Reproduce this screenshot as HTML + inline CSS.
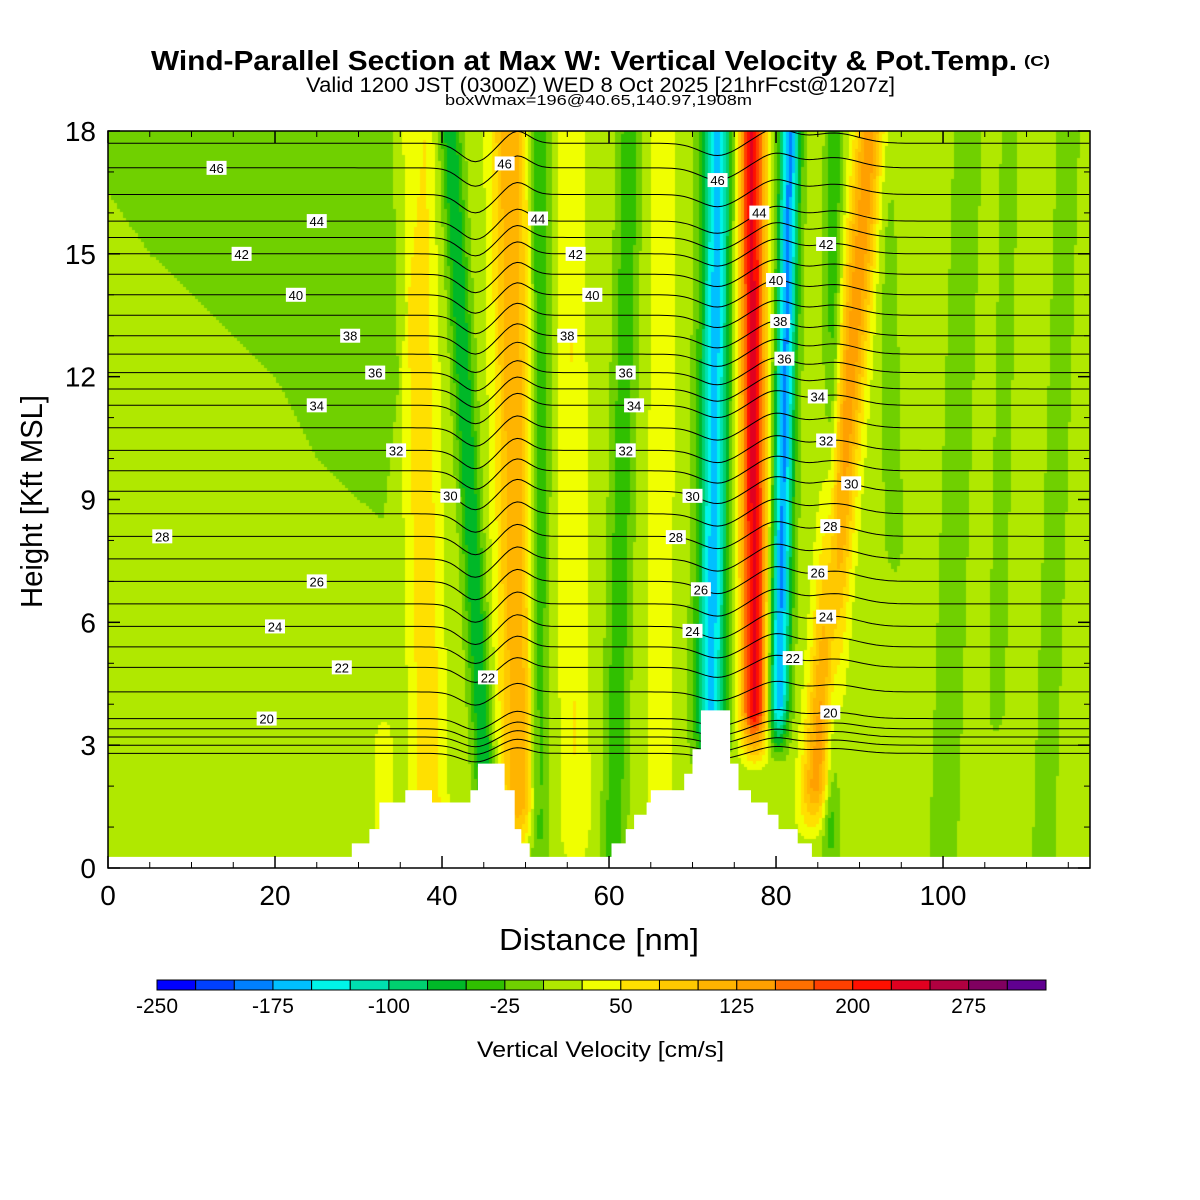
<!DOCTYPE html>
<html><head><meta charset="utf-8"><style>
html,body{margin:0;padding:0;background:#fff;}
#wrap{position:relative;width:1200px;height:1200px;}
#fld{position:absolute;left:108px;top:131px;}
svg{position:absolute;left:0;top:0;}
text{font-family:"Liberation Sans",sans-serif;fill:#000;}
</style></head><body>
<div id="wrap">
<canvas id="fld" width="982" height="737"></canvas>
<svg id="svg" width="1200" height="1200"></svg>
</div>
<script>
// ---- data ----
const binColors=["#0000ff","#0040ff","#0080ff","#00c0ff","#00f4e8","#00e0b0","#00d070","#00b828","#30c000","#70d000","#b0e800","#f0ff00","#ffe000","#ffc800","#ffb400","#ffa000","#ff7000","#ff4000","#ff1000","#e00020","#b00040","#800060","#600090"];
const binStart=-250, binStep=25;
const cbLabels=[-250,-175,-100,-25,50,125,200,275];
const xTicks=[0,20,40,60,80,100];
const yTicks=[0,3,6,9,12,15,18];
// bands: x at ground, x at top (nm), amplitude cm/s, half width nm, z range (kft)
const bandXb=[38.6,45.7,49.3,51.5,56,60.5,66,72.0,77.5,79.9,84,86.5,100,112,33,95,106];
const bandXt=[36.8,41.0,48.1,51.7,55.3,62.5,66.5,73.0,77.1,81.7,91.3,87.0,103,115,33,93,108];
const bandAmp=[60,-85,110,-65,40,-55,35,-170,220,-190,130,-55,-20,-20,25,-20,-18];
const bandW=[2.0,1.2,2.2,1.2,1.8,1.3,1.6,1.7,1.6,1.2,1.8,1.0,2.0,1.6,1.5,1.3,1.3];
const bandZlo=[1,1.5,1.5,1,1,0.5,1,3.5,3.8,4,2,1,0,0,0,8,4];
const bandZhi=[18,18,18,18,18,18,18,18,18,18,18,18,18,18,3,18,18];
// upper-left darker region boundary (z above which background is negative)
const bgX=[0,5,10,15,20,25,30,33,36,38];
const bgZ=[16.5,15,14,13,12,10,9,8.5,14,18];
// terrain steps (segment start nm, height kft)
const terrX=[0,29.2,31.3,32.5,35.6,38.8,43.4,44.3,47.5,48.7,49.5,50.5,60.3,62,63,64.5,65,69,70,71,74.5,75.5,77,79,80.3,82.6,84.3];
const terrZ=[0.27,0.6,0.95,1.6,1.9,1.6,1.9,2.55,1.9,0.95,0.6,0.27,0.6,0.95,1.3,1.6,1.9,2.3,2.9,3.85,2.55,1.9,1.6,1.3,0.95,0.6,0.27];
// potential temperature levels and their heights at left edge
const thetaLev=[16,17,18,19,20,21,22,23,24,25,26,27,28,29,30,31,32,33,34,35,36,37,38,39,40,41,42,43,44,45,46,47];
const thetaZ=[2.8,3.0,3.2,3.4,3.65,4.3,4.9,5.4,5.9,6.45,7.0,7.55,8.1,8.65,9.2,9.7,10.2,10.75,11.3,11.7,12.1,12.55,13.0,13.5,14.0,14.5,15.0,15.4,15.8,16.45,17.1,17.7];
// isentrope displacement bumps
const dispX=[44,49,73,80,87];
const dispAmp=[-0.45,0.3,-0.3,0.35,0.25];
const dispW=[2.5,2,3,3,4];
// contour labels
const labTheta=[46,44,42,40,38,36,34,32,30,28,26,24,22,20,46,44,42,40,38,36,34,32,30,28,26,24,22,46,44,40,38,36,34,32,30,28,26,24,42,20,22];
const labX=[13,25,16,22.5,29,32,25,34.5,41,6.5,25,20,28,19,47.5,51.5,56,58,55,62,63,62,70,68,71,70,45.5,73,78,80,80.5,81,85,86,89,86.5,85,86,86,86.5,82];

// ---- axes ----
const X0=108,X1=1090,Y0=868,Y1=131,XMAX=117.6,ZMAX=18;
const sx=v=>X0+(v/XMAX)*(X1-X0);
const sy=v=>Y0-(v/ZMAX)*(Y0-Y1);
function interp(xs,ys,x){if(x<=xs[0])return ys[0];for(let i=1;i<xs.length;i++){if(x<=xs[i]){const t=(x-xs[i-1])/((xs[i]-xs[i-1])||1);return ys[i-1]+t*(ys[i]-ys[i-1]);}}return ys[ys.length-1];}
function W(x,z){
  let w=(z>interp(bgX,bgZ,x))?-10:10;
  for(let i=0;i<bandAmp.length;i++){
    const xc=bandXb[i]+(bandXt[i]-bandXb[i])*z/18;
    let env=1;
    if(z<bandZlo[i])env=Math.max(0,1-(bandZlo[i]-z)/1.5);
    if(z>bandZhi[i])env=Math.max(0,1-(z-bandZhi[i])/1.5);
    const d=(x-xc)/bandW[i];
    w+=bandAmp[i]*Math.exp(-d*d)*env;
  }
  return w;
}
const cv=document.getElementById('fld'),ctx=cv.getContext('2d');
const cw=cv.width,ch=cv.height,step=3;
for(let py=0;py<ch;py+=step){for(let px=0;px<cw;px+=step){
  const x=(px+1.5)/cw*XMAX,z=(ch-py-1.5)/ch*ZMAX;
  let b=Math.floor((W(x,z)-binStart)/binStep);b=Math.max(0,Math.min(binColors.length-1,b));
  ctx.fillStyle=binColors[b];ctx.fillRect(px,py,step,step);}}

const NS="http://www.w3.org/2000/svg",svg=document.getElementById('svg');
function mk(t,a,p){const e=document.createElementNS(NS,t);for(const k in a)e.setAttribute(k,a[k]);(p||svg).appendChild(e);return e;}
function txt(s,a,p){const e=mk('text',a,p);e.textContent=s;return e;}
const defs=mk('defs',{});const cp=mk('clipPath',{id:'plotclip'},defs);mk('rect',{x:X0,y:Y1,width:X1-X0,height:Y0-Y1},cp);

// isentropes
function disp(x){let d=0;for(let i=0;i<dispX.length;i++){const q=(x-dispX[i])/dispW[i];d+=dispAmp[i]*Math.exp(-q*q);}return d;}
function thZ(i,x){const z0=thetaZ[i];const f=Math.min(1,z0/6);return z0+disp(x)*f;}
const gl=mk('g',{fill:'none',stroke:'#000','stroke-width':'1','clip-path':'url(#plotclip)'});
thetaLev.forEach((th,i)=>{let d='';for(let x=0;x<=XMAX;x+=0.5){d+=(x?'L':'M')+sx(x).toFixed(1)+','+sy(thZ(i,x)).toFixed(1);}
  const p=mk('path',{d:d},gl);});

// terrain
let td='M'+sx(0)+','+sy(0);
terrX.forEach((x,i)=>{const xe=(i+1<terrX.length)?terrX[i+1]:XMAX;td+='L'+sx(x).toFixed(1)+','+sy(terrZ[i]).toFixed(1)+'L'+sx(xe).toFixed(1)+','+sy(terrZ[i]).toFixed(1);});
td+='L'+sx(XMAX)+','+sy(0)+'Z';
mk('path',{d:td,fill:'#fff',stroke:'none',});

// labels
const gLab=mk('g',{});
labTheta.forEach((th,k)=>{const i=thetaLev.indexOf(th);const x=labX[k];const cx=sx(x),cy=sy(thZ(i,x));
  const g=mk('g',{},gLab);
  mk('rect',{x:cx-10,y:cy-7,width:20,height:14,fill:'#fff'},g);
  txt(String(th),{x:cx,y:cy+5,'font-size':13,'text-anchor':'middle'},g);});

// frame & ticks
mk('rect',{x:X0,y:Y1,width:X1-X0,height:Y0-Y1,fill:'none',stroke:'#000','stroke-width':1.5,});
xTicks.forEach(v=>{const x=sx(v);mk('line',{x1:x,x2:x,y1:Y0,y2:Y0-12,stroke:'#000','stroke-width':1.5});mk('line',{x1:x,x2:x,y1:Y1,y2:Y1+12,stroke:'#000','stroke-width':1.5});
  const t=txt(String(v),{x:x,y:905,'font-size':28,'text-anchor':'middle'});});
for(let v=5;v<XMAX;v+=5){if(v%20){const x=sx(v);mk('line',{x1:x,x2:x,y1:Y0,y2:Y0-6,stroke:'#000'});mk('line',{x1:x,x2:x,y1:Y1,y2:Y1+6,stroke:'#000'});}}
yTicks.forEach(v=>{const y=sy(v);mk('line',{x1:X0,x2:X0+12,y1:y,y2:y,stroke:'#000','stroke-width':1.5});mk('line',{x1:X1,x2:X1-12,y1:y,y2:y,stroke:'#000','stroke-width':1.5});
  const t=txt(String(v),{x:96,y:y+10,'font-size':28,'text-anchor':'end'});});
for(let v=1;v<18;v++){if(v%3){const y=sy(v);mk('line',{x1:X0,x2:X0+6,y1:y,y2:y,stroke:'#000'});mk('line',{x1:X1,x2:X1-6,y1:y,y2:y,stroke:'#000'});}}

// titles
txt('Wind-Parallel Section at Max W: Vertical Velocity & Pot.Temp.',{x:151,y:70,'font-size':28,'font-weight':'bold',textLength:866,lengthAdjust:'spacingAndGlyphs',});
txt('(C)',{x:1024,y:66,'font-size':15,'font-weight':'bold',textLength:26,lengthAdjust:'spacingAndGlyphs',});
txt('Valid 1200 JST (0300Z) WED 8 Oct 2025 [21hrFcst@1207z]',{x:306,y:92,'font-size':21,textLength:589,lengthAdjust:'spacingAndGlyphs',});
txt('boxWmax=196@40.65,140.97,1908m',{x:445,y:105,'font-size':15,textLength:307,lengthAdjust:'spacingAndGlyphs',});
txt('Distance [nm]',{x:499,y:950,'font-size':31,textLength:200,lengthAdjust:'spacingAndGlyphs',});
txt('Height [Kft MSL]',{x:0,y:0,'font-size':31,textLength:213,lengthAdjust:'spacingAndGlyphs',transform:'translate(42,608) rotate(-90)',});

// colorbar
const cbX0=157,cbX1=1046,bw=(cbX1-cbX0)/binColors.length;
const gcb=mk('g',{});
binColors.forEach((c,i)=>{const r=mk('rect',{x:cbX0+i*bw,y:980,width:bw,height:10,fill:c,stroke:'#000','stroke-width':1},gcb);});
cbLabels.forEach(v=>{const x=cbX0+(v-binStart)/binStep*bw;const t=txt(String(v),{x:x,y:1013,'font-size':21,'text-anchor':'middle'},gcb);});
txt('Vertical Velocity [cm/s]',{x:477,y:1057,'font-size':22,textLength:247,lengthAdjust:'spacingAndGlyphs',});
</script>
</body></html>
